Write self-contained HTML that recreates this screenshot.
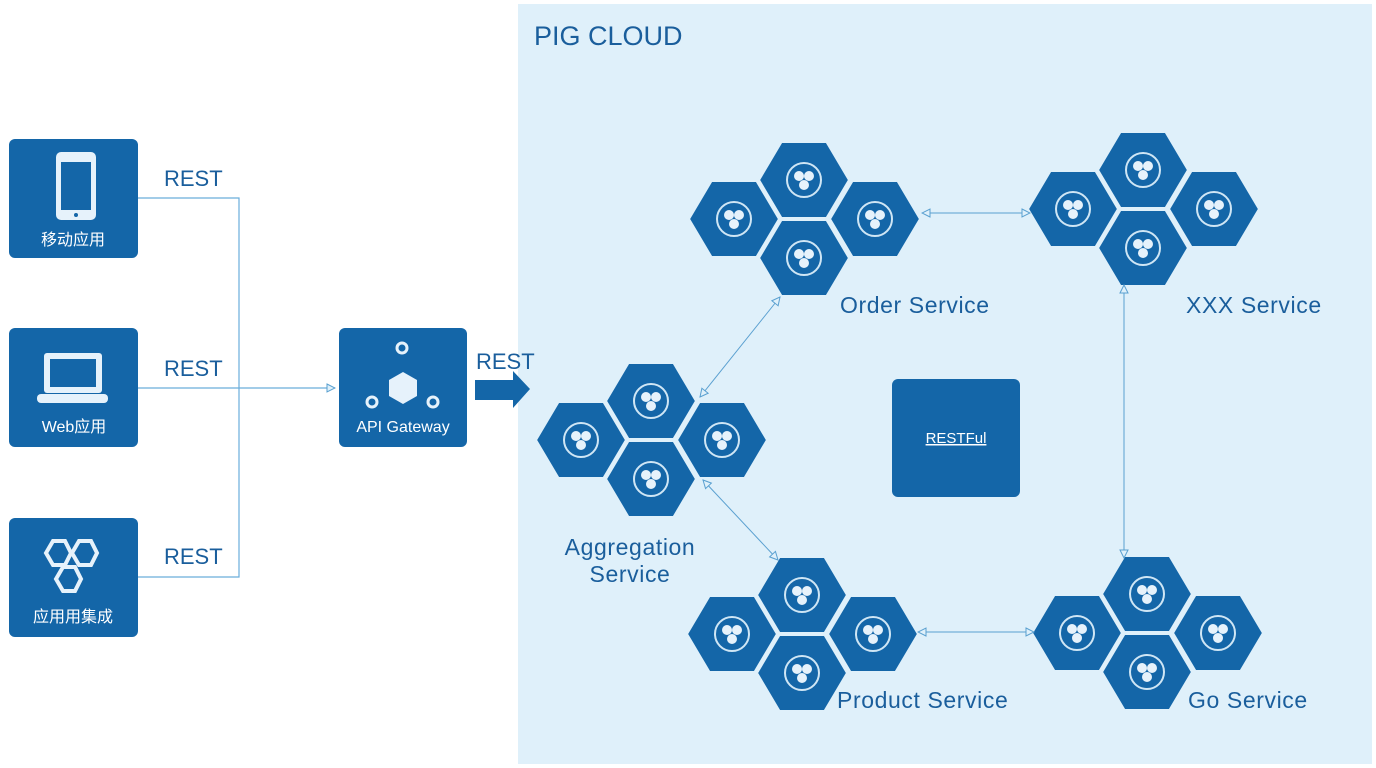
<!DOCTYPE html>
<html><head><meta charset="utf-8"><style>
body{margin:0;background:#fff;}
svg{display:block}
text{font-family:"Liberation Sans","Noto Sans CJK SC",sans-serif;}
</style></head><body>
<svg width="1376" height="768" viewBox="0 0 1376 768" xmlns="http://www.w3.org/2000/svg">
<defs>
<g id="hex">
<polygon points="-45,0 -22.5,-38 22.5,-38 45,0 22.5,38 -22.5,38" fill="#1466a8" stroke="#dff0fa" stroke-width="2"/>
<circle cx="0" cy="0" r="17" fill="none" stroke="#cfe6f5" stroke-width="2"/>
<circle cx="-5" cy="-4" r="5" fill="#e6f2fb"/><circle cx="5" cy="-4" r="5" fill="#e6f2fb"/><circle cx="0" cy="5" r="5" fill="#e6f2fb"/>
</g>
<g id="cl">
<use href="#hex" x="0" y="-39"/><use href="#hex" x="-70" y="0"/><use href="#hex" x="71" y="0"/><use href="#hex" x="0" y="39"/>
</g>
<marker id="ar" markerWidth="10" markerHeight="10" refX="9" refY="5" orient="auto-start-reverse" markerUnits="userSpaceOnUse">
<path d="M1,1 L9,5 L1,9 Z" fill="#dff0fa" stroke="#5aa0d0" stroke-width="1"/>
</marker>
</defs>
<rect x="518" y="4" width="854" height="760" fill="#dff0fa"/>
<text x="534" y="45" font-size="27" fill="#1a5e9c">PIG CLOUD</text>

<rect x="9" y="139" width="129" height="119" rx="6" fill="#1466a8"/>
<rect x="56" y="152" width="40" height="68" rx="5" fill="#e6f2fb"/>
<rect x="61" y="162" width="30" height="48" fill="#1466a8"/>
<circle cx="76" cy="215" r="2" fill="#1466a8"/>
<text x="73" y="245" font-size="16" fill="#fff" text-anchor="middle">移动应用</text>

<rect x="9" y="328" width="129" height="119" rx="6" fill="#1466a8"/>
<rect x="44" y="353" width="58" height="40" rx="3" fill="#e6f2fb"/>
<rect x="50" y="359" width="46" height="28" fill="#1466a8"/>
<rect x="37" y="394" width="71" height="9" rx="4" fill="#e6f2fb"/>
<text x="74" y="432" font-size="16" fill="#fff" text-anchor="middle">Web应用</text>

<rect x="9" y="518" width="129" height="119" rx="6" fill="#1466a8"/>
<g fill="none" stroke="#e6f2fb" stroke-width="4">
<polygon points="46,553 53,541 65,541 71,553 65,565 53,565"/>
<polygon points="78,553 85,541 97,541 103,553 97,565 85,565" transform="translate(-6,0)"/>
<polygon points="62,579 69,567 81,567 87,579 81,591 69,591" transform="translate(-6,0)"/>
</g>
<text x="73" y="622" font-size="16" fill="#fff" text-anchor="middle">应用用集成</text>

<g stroke="#6aaedb" stroke-width="1.2" fill="none">
<path d="M138,198 H239 V577 H138"/>
<path d="M138,388 H335" marker-end="url(#ar)"/>
</g>
<text x="164" y="186" font-size="22" fill="#1a5e9c">REST</text>
<text x="164" y="376" font-size="22" fill="#1a5e9c">REST</text>
<text x="164" y="564" font-size="22" fill="#1a5e9c">REST</text>

<rect x="339" y="328" width="128" height="119" rx="6" fill="#1466a8"/>
<circle cx="402" cy="348" r="5" fill="none" stroke="#e6f2fb" stroke-width="3"/>
<polygon points="403,372 417,380 417,396 403,404 389,396 389,380" fill="#e6f2fb"/>
<circle cx="372" cy="402" r="5" fill="none" stroke="#e6f2fb" stroke-width="3"/>
<circle cx="433" cy="402" r="5" fill="none" stroke="#e6f2fb" stroke-width="3"/>
<text x="403" y="432" font-size="16" fill="#fff" text-anchor="middle">API Gateway</text>

<text x="476" y="369" font-size="22" fill="#1a5e9c">REST</text>
<polygon points="475,380 513,380 513,371 530,389 513,408 513,400 475,400" fill="#1466a8"/>

<use href="#cl" x="804" y="219"/>
<use href="#cl" x="1143" y="209"/>
<use href="#cl" x="651" y="440"/>
<use href="#cl" x="802" y="634"/>
<use href="#cl" x="1147" y="633"/>

<g stroke="#5aa0d0" stroke-width="1" fill="none">
<path d="M922,213 H1030" marker-start="url(#ar)" marker-end="url(#ar)"/>
<path d="M1124,285 V558" marker-start="url(#ar)" marker-end="url(#ar)"/>
<path d="M918,632 H1034" marker-start="url(#ar)" marker-end="url(#ar)"/>
<path d="M700,397 L780,297" marker-start="url(#ar)" marker-end="url(#ar)"/>
<path d="M703,480 L778,560" marker-start="url(#ar)" marker-end="url(#ar)"/>
</g>

<rect x="892" y="379" width="128" height="118" rx="6" fill="#1466a8"/>
<text x="956" y="443" font-size="15" fill="#fff" text-anchor="middle" text-decoration="underline">RESTFul</text>

<g font-size="23" fill="#1a5e9c" letter-spacing="0.6">
<text x="840" y="313">Order Service</text>
<text x="1186" y="313">XXX Service</text>
<text x="630" y="555" text-anchor="middle">Aggregation</text>
<text x="630" y="582" text-anchor="middle">Service</text>
<text x="837" y="708">Product Service</text>
<text x="1188" y="708">Go Service</text>
</g>
</svg>
</body></html>
